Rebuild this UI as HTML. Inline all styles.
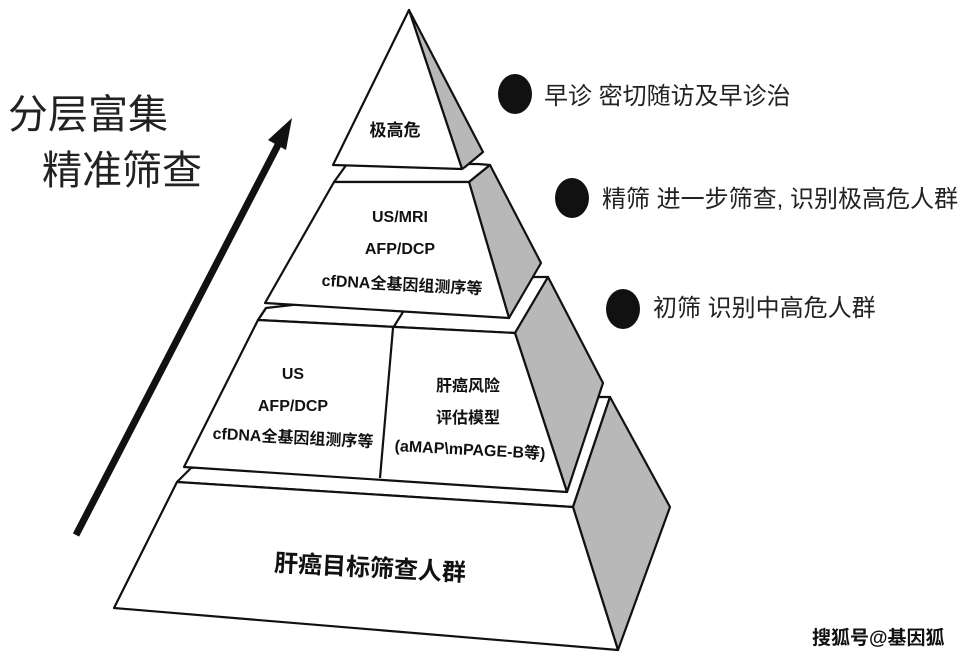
<!DOCTYPE html>
<html><head><meta charset="utf-8"><style>
html,body{margin:0;padding:0;background:#fff;width:971px;height:661px;overflow:hidden}
svg{display:block}
text{font-family:"Liberation Sans","Noto Sans CJK SC",sans-serif}
</style></head><body>
<svg width="971" height="661" viewBox="0 0 971 661" xmlns="http://www.w3.org/2000/svg">
<g stroke="#111" stroke-width="2.2" stroke-linejoin="round">
<polygon points="191,468 598,397 610,397 573,507 177,482" fill="#fff"/>
<polygon points="573,507 610,397 670,507 618,650" fill="#b8b8b8"/>
<polygon points="177,482 573,507 618,650 114,608" fill="#fff"/>
<polygon points="266,308 535,277 548,277 515,333 258,320" fill="#fff"/>
<polygon points="515,333 548,277 603,383 567,492" fill="#b8b8b8"/>
<polygon points="258,320 515,333 567,492 184,467" fill="#fff"/>
<line x1="393" y1="328" x2="380" y2="478"/>
<line x1="266" y1="308" x2="258" y2="320"/>
<line x1="403" y1="312" x2="393" y2="328"/>
<polygon points="347,164 478,164 490,165 469,182 334,182" fill="#fff"/>
<polygon points="469,182 490,165 541,263 509,318" fill="#b8b8b8"/>
<polygon points="334,182 469,182 509,318 265,303" fill="#fff"/>
<polygon points="409,10 483,152 465,167 462,169" fill="#b8b8b8"/>
<polygon points="409,10 462,169 333,165" fill="#fff"/>
</g>
<line x1="76" y1="535" x2="278" y2="145" stroke="#111" stroke-width="7"/>
<polygon points="292,118 268,140 286,150" fill="#111"/>
<text x="8" y="128" font-size="40" fill="#222">分层富集</text>
<text x="42" y="184" font-size="40" fill="#222">精准筛查</text>
<g font-weight="bold" fill="#111" text-anchor="middle">
<text x="395" y="136" font-size="17">极高危</text>
<text x="400" y="222" font-size="16">US/MRI</text>
<text x="400" y="254" font-size="16">AFP/DCP</text>
<text x="402" y="290" font-size="16" transform="rotate(3 402 285)">cfDNA全基因组测序等</text>
<text x="293" y="379" font-size="16">US</text>
<text x="293" y="411" font-size="16">AFP/DCP</text>
<text x="293" y="443" font-size="16" transform="rotate(3 293 438)">cfDNA全基因组测序等</text>
<text x="468" y="391" font-size="16">肝癌风险</text>
<text x="468" y="423" font-size="16">评估模型</text>
<text x="470" y="455" font-size="16" transform="rotate(3 470 450)">(aMAP\mPAGE-B等)</text>
<text x="370" y="576" font-size="24" transform="rotate(3 370 568)">肝癌目标筛查人群</text>
</g>
<g fill="#111">
<ellipse cx="515" cy="94" rx="17" ry="20"/>
<ellipse cx="572" cy="198" rx="17" ry="20"/>
<ellipse cx="623" cy="309" rx="17" ry="20"/>
</g>
<g font-size="24" fill="#222">
<text x="544" y="104">早诊 密切随访及早诊治</text>
<text x="602" y="207">精筛 进一步筛查, 识别极高危人群</text>
<text x="653" y="316">初筛 识别中高危人群</text>
</g>
<text x="812" y="644" font-size="19" font-weight="bold" fill="#111">搜狐号@基因狐</text>
</svg>
</body></html>
